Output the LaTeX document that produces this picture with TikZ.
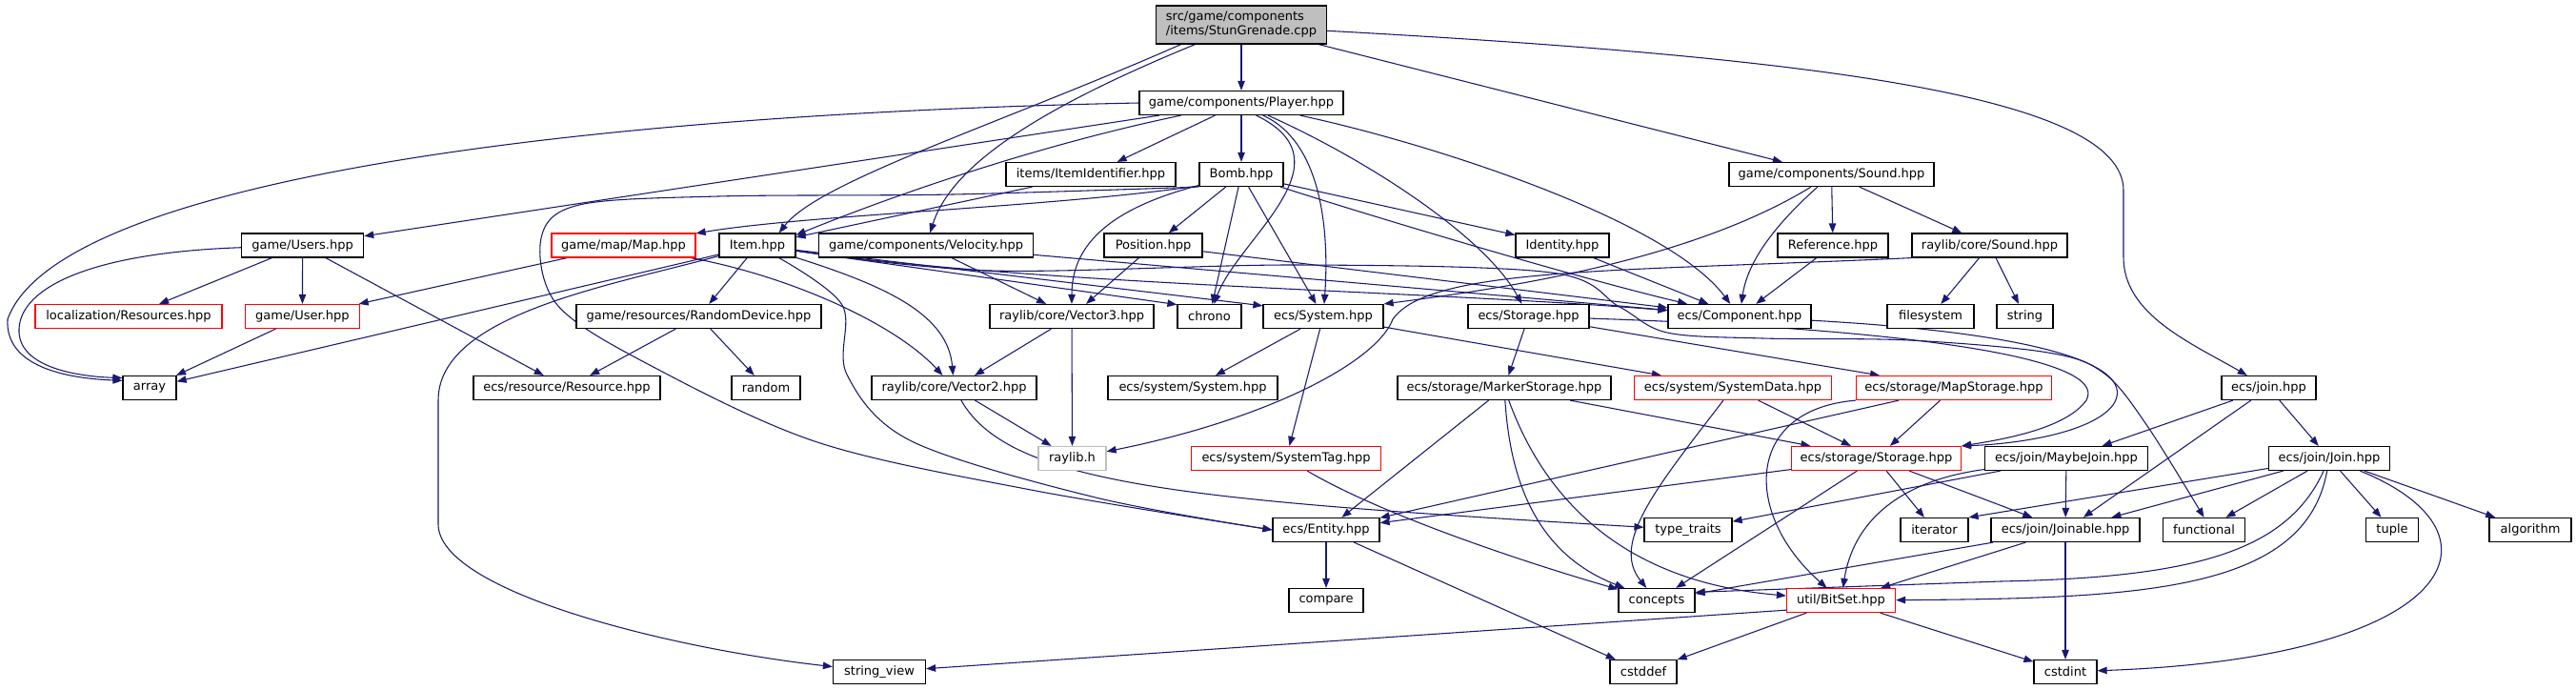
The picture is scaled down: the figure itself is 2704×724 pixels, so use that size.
\documentclass[tikz,border=0pt]{standalone}
\usepackage{fontspec}
\setmainfont{DejaVu Sans}
\usetikzlibrary{arrows.meta,backgrounds}
\definecolor{edgecol}{HTML}{191970}
\definecolor{redb}{HTML}{FF0000}
\definecolor{grayb}{HTML}{BFBFBF}
\newcommand{\ndfont}{\fontsize{9.75}{11.25}\selectfont}
\begin{document}
\begin{tikzpicture}[x=0.75pt,y=-0.75pt,
  nb/.style={draw=black, line width=0.9pt, fill=white, minimum height=18.75pt, inner xsep=1pt, inner ysep=0pt, font=\ndfont, text=black},
  nr/.style={nb, draw=redb},
  ng/.style={nb, draw=grayb},
  e/.style={draw=edgecol, line width=0.8pt, -{Triangle[length=7.5pt,width=5.6pt]}},
]
\useasboundingbox (0,0) rectangle (2704,724);
% row 0
\node[nb, fill=grayb, minimum width=134.25pt, minimum height=30pt, align=left] (SG) at (1303,26) {src/game/components\\/items/StunGrenade.cpp};
% row 1
\node[nb, minimum width=160.5pt] (P) at (1303,108) {game/components/Player.hpp};
% row 2
\node[nb, minimum width=133.5pt] (II) at (1145,183) {items/ItemIdentifier.hpp};
\node[nb, minimum width=66pt] (B) at (1303,183) {Bomb.hpp};
\node[nb, minimum width=161.25pt] (GS) at (1922.5,183) {game/components/Sound.hpp};
% row 3
\node[nb, minimum width=96pt] (Users) at (317.6,257.5) {game/Users.hpp};
\node[nr, minimum width=113.25pt] (Map) at (654.5,257.5) {game/map/Map.hpp};
\node[nb, minimum width=60pt] (Item) at (795,257.5) {Item.hpp};
\node[nb, minimum width=168.75pt] (Vel) at (972,257.5) {game/components/Velocity.hpp};
\node[nb, minimum width=77.25pt] (Pos) at (1210.5,257.5) {Position.hpp};
\node[nb, minimum width=73.5pt] (Id) at (1640,257.5) {Identity.hpp};
\node[nb, minimum width=87pt] (Ref) at (1924,257.5) {Reference.hpp};
\node[nb, minimum width=122.25pt] (RS) at (2088.5,257.5) {raylib/core/Sound.hpp};
% row 4
\node[nr, minimum width=147pt] (Loc) at (135,332) {localization/Resources.hpp};
\node[nr, minimum width=90pt] (User) at (317.4,332) {game/User.hpp};
\node[nb, minimum width=192.75pt] (RD) at (733.5,332) {game/resources/RandomDevice.hpp};
\node[nb, minimum width=129pt] (V3) at (1125,332) {raylib/core/Vector3.hpp};
\node[nb, minimum width=50.25pt] (chrono) at (1269.5,332) {chrono};
\node[nb, minimum width=94.5pt] (Sys) at (1389,332) {ecs/System.hpp};
\node[nb, minimum width=95.25pt] (St) at (1604.5,332) {ecs/Storage.hpp};
\node[nb, minimum width=112.5pt] (Comp) at (1826,332) {ecs/Component.hpp};
\node[nb, minimum width=68.25pt] (fs) at (2026.5,332) {filesystem};
\node[nb, minimum width=44.25pt] (string) at (2125.5,332) {string};
% row 5
\node[nb, minimum width=42pt] (array) at (157,407) {array};
\node[nb, minimum width=147pt] (Res) at (595,407) {ecs/resource/Resource.hpp};
\node[nb, minimum width=54pt] (random) at (804,407) {random};
\node[nb, minimum width=129.75pt] (V2) at (1001.5,407) {raylib/core/Vector2.hpp};
\node[nb, minimum width=133.5pt] (SS) at (1252,407) {ecs/system/System.hpp};
\node[nb, minimum width=168pt] (MkS) at (1579,407) {ecs/storage/MarkerStorage.hpp};
\node[nr, minimum width=155.25pt] (SD) at (1819,407) {ecs/system/SystemData.hpp};
\node[nr, minimum width=153.75pt] (MpS) at (2051,407) {ecs/storage/MapStorage.hpp};
\node[nb, minimum width=74.25pt] (join) at (2381.5,407) {ecs/join.hpp};
% row 6
\node[ng, minimum width=53.25pt] (rh) at (1125.5,481) {raylib.h};
\node[nr, minimum width=149.25pt] (STag) at (1350,481) {ecs/system/SystemTag.hpp};
\node[nr, minimum width=133.5pt] (Stor) at (1969.5,481) {ecs/storage/Storage.hpp};
\node[nb, minimum width=128.25pt] (MJ) at (2169,481) {ecs/join/MaybeJoin.hpp};
\node[nb, minimum width=95.25pt] (Join) at (2445,481) {ecs/join/Join.hpp};
% row 7
\node[nb, minimum width=84pt] (Ent) at (1392,556) {ecs/Entity.hpp};
\node[nb, minimum width=69pt] (tt) at (1772,556) {type\_traits};
\node[nb, minimum width=53.25pt] (iter) at (2030.5,556) {iterator};
\node[nb, minimum width=117pt] (Jn) at (2168,556) {ecs/join/Joinable.hpp};
\node[nb, minimum width=64.5pt] (func) at (2313.5,556) {functional};
\node[nb, minimum width=41.25pt] (tuple) at (2511,556) {tuple};
\node[nb, minimum width=64.5pt] (algo) at (2656,556) {algorithm};
% row 8
\node[nb, minimum width=58.5pt] (cmp) at (1392,630) {compare};
\node[nb, minimum width=60pt] (conc) at (1739,630) {concepts};
\node[nr, minimum width=85.5pt] (BS) at (1932.5,630) {util/BitSet.hpp};
% row 9
\node[nb, minimum width=72.75pt] (sv) at (923,705) {string\_view};
\node[nb, minimum width=52.5pt] (cstddef) at (1725,705) {cstddef};
\node[nb, minimum width=49.5pt] (cstdint) at (2168,705) {cstdint};

\begin{scope}[on background layer]
\fill[white] (0,0) rectangle (2704,724);
% StunGrenade
\draw[e] (SG) -- (P);
\draw[e] (SG.198) .. controls (1050,130) and (860,190) .. (Item.30);
\draw[e] (SG.203) .. controls (1100,110) and (1000,170) .. (Vel);
\draw[e] (SG) -- (GS);
\draw[e] (SG.-4) .. controls (1900,60) and (2229,100) .. (2229,200) -- (2229,270) .. controls (2229,330) and (2300,360) .. (join);
% Player
\draw[e] (P) -- (Users);
\draw[e] (P.west) .. controls (600,120) and (60,190) .. (8,335) .. controls (5,385) and (70,397) .. (array.165);
\draw[e] (P) .. controls (1100,150) and (950,200) .. (Item.15);
\draw[e] (P) -- (II);
\draw[e] (P) -- (B);
\draw[e] (P.-40) .. controls (1420,170) and (1300,250) .. (chrono);
\draw[e] (P.-30) .. controls (1390,150) and (1395,250) .. (Sys);
\draw[e] (P.-25) .. controls (1440,170) and (1560,250) .. (St);
\draw[e] (P.-12) .. controls (1500,150) and (1750,230) .. (Comp);
% ItemIdentifier
\draw[e] (II) -- (Item);
% Bomb
\draw[e] (B.195) .. controls (1100,218) and (850,225) .. (Map);
\draw[e] plot[smooth,tension=0.55] coordinates {(B.south west) (1000,204) (754,206) (608,215) (568,250) (585,320) (680,382) (858,464) (1082,514) (Ent.west)};
\draw[e] (B) -- (Pos);
\draw[e] (B) .. controls (1160,220) and (1125,260) .. (V3);
\draw[e] (B) -- (chrono);
\draw[e] (B) -- (Sys);
\draw[e] (B) -- (Id);
\draw[e] (B) .. controls (1450,230) and (1650,290) .. (Comp);
% game Sound
\draw[e] (GS) -- (Ref);
\draw[e] (GS) -- (RS);
\draw[e] (GS) .. controls (1870,230) and (1835,270) .. (Comp);
\draw[e] (GS) .. controls (1780,270) and (1600,300) .. (Sys.north east);
% Users
\draw[e] (Users) -- (Loc);
\draw[e] (Users) -- (User);
\draw[e] (Users) -- (Res);
\draw[e] (Users) .. controls (100,265) and (22,300) .. (20,345) .. controls (18,385) and (80,395) .. (array.160);
% User, Map
\draw[e] (User) -- (array);
\draw[e] (Map) -- (User);
\draw[e] (Map) .. controls (830,290) and (940,340) .. (V2);
% Item
\draw[e] (Item) -- (array);
\draw[e] (Item) .. controls (640,300) and (460,330) .. (460,420) -- (460,550) .. controls (460,620) and (700,680) .. (sv);
\draw[e] (Item) -- (RD);
\draw[e] (Item) .. controls (930,300) and (995,330) .. (V2);
\draw[e] plot[smooth,tension=0.55] coordinates {(Item.-30) (884,320) (889,393) (957,463) (1150,522) (Ent.west)};
\draw[e] (Item) -- (chrono.160);
\draw[e] (Item) -- (Sys.170);
\draw[e] (Item) .. controls (1100,300) and (1500,305) .. (Comp);
\draw[e] plot[smooth,tension=0.55] coordinates {(Item.-8) (1040,284) (1360,278) (1628,286) (1700,322) (1750,349) (1850,355) (2004,357) (2150,370) (2209,392) (2254,447) (func.north)};
% Velocity, Position, Identity, Reference
\draw[e] (Vel) -- (V3);
\draw[e] (Vel) -- (Comp);
\draw[e] (Pos) -- (V3);
\draw[e] (Pos) -- (Comp);
\draw[e] (Id) -- (Comp);
\draw[e] (Ref) -- (Comp);
% raylib Sound
\draw[e] (RS) -- (fs);
\draw[e] (RS) -- (string);
\draw[e] (RS.south west) .. controls (1700,285) and (1500,280) .. (1462,335) .. controls (1445,380) and (1330,440) .. (rh);
% Vector3, Vector2
\draw[e] (V3) -- (V2);
\draw[e] (V3) -- (rh);
\draw[e] (V2) -- (rh);
\draw[e] (V2) .. controls (1060,510) and (1250,525) .. (tt);
% System
\draw[e] (Sys) -- (SS);
\draw[e] (Sys) -- (STag);
\draw[e] (Sys) -- (SD);
% Storage, Component
\draw[e] (St) -- (MkS);
\draw[e] (St) -- (MpS);
\draw[e] (St) .. controls (2000,345) and (2215,375) .. (2190,420) .. controls (2170,448) and (2110,460) .. (Stor.north east);
\draw[e] (Comp) .. controls (2150,350) and (2245,385) .. (2218,425) .. controls (2195,455) and (2115,466) .. (Stor.north east);
% MarkerStorage
\draw[e] (MkS) -- (Stor);
\draw[e] (MkS) -- (Ent);
\draw[e] (MkS) .. controls (1585,500) and (1610,580) .. (conc);
\draw[e] (MkS) .. controls (1620,520) and (1700,610) .. (BS);
% SystemData
\draw[e] (SD) -- (Stor);
\draw[e] (SD) .. controls (1740,510) and (1690,570) .. (conc);
% MapStorage
\draw[e] (MpS) -- (Stor);
\draw[e] (MpS) -- (Ent);
\draw[e] (MpS.south west) .. controls (1830,430) and (1830,540) .. (BS);
% SystemTag
\draw[e] (STag) .. controls (1450,540) and (1600,590) .. (conc);
% storage/Storage
\draw[e] (Stor) -- (Ent);
\draw[e] (Stor) -- (conc);
\draw[e] (Stor) -- (iter);
\draw[e] (Stor) -- (Jn);
% join
\draw[e] (join) -- (MJ);
\draw[e] (join) -- (Jn);
\draw[e] (join) -- (Join);
% MaybeJoin
\draw[e] (MJ) -- (tt);
\draw[e] (MJ) .. controls (1990,505) and (1945,550) .. (BS);
\draw[e] (MJ) -- (Jn);
% Join
\draw[e] (Join) -- (iter.north east);
\draw[e] (Join) -- (Jn);
\draw[e] (Join) -- (func);
\draw[e] (Join) -- (tuple);
\draw[e] (Join) -- (algo);
\draw[e] (Join) .. controls (2400,580) and (2300,606) .. (2100,610) -- (conc.12);
\draw[e] (Join) .. controls (2420,620) and (2250,628) .. (BS);
\draw[e] (Join) .. controls (2640,560) and (2580,690) .. (cstdint);
% Joinable
\draw[e] (Jn) -- (conc);
\draw[e] (Jn) -- (BS);
\draw[e] (Jn) -- (cstdint);
% Entity
\draw[e] (Ent) -- (cmp);
\draw[e] (Ent) -- (cstddef);
% BitSet
\draw[e] (BS.-170) -- (sv);
\draw[e] (BS) -- (cstddef);
\draw[e] (BS) -- (cstdint);
% RandomDevice
\draw[e] (RD) -- (Res);
\draw[e] (RD) -- (random);
\end{scope}
\end{tikzpicture}
\end{document}
